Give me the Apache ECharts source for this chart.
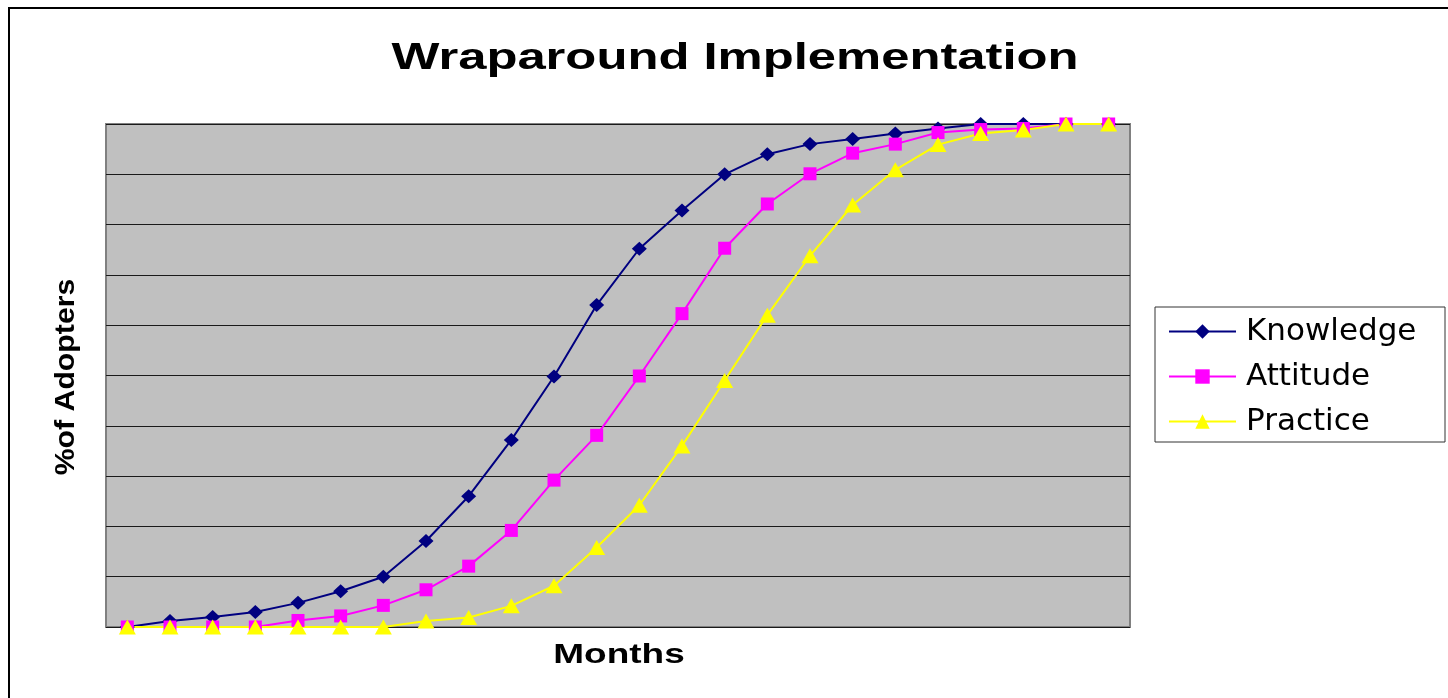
<!DOCTYPE html>
<html>
<head>
<meta charset="utf-8">
<script src="https://cdn.jsdelivr.net/npm/echarts@6/dist/echarts.min.js"></script>
<style>
  html, body { margin: 0; padding: 0; background: #fff; overflow: hidden; }
  #frame { position: absolute; left: 8px; top: 7px; width: 1480px; height: 740px; border: 2px solid #000; box-sizing: border-box; }
  #chart { position: absolute; left: 0; top: 0; width: 1448px; height: 698px; }
</style>
</head>
<body>
<div id="frame"></div>
<div id="chart"></div>
<script>
// ---- data ----
const months = ['1','2','3','4','5','6','7','8','9','10','11','12','13','14','15','16','17','18','19','20','21','22','23','24'];
const knowledge = [0, 1.2, 2, 3, 4.8, 7.1, 10, 17.1, 26, 37.2, 49.8, 64, 75.2, 82.8, 90, 94, 96, 97, 98.1, 99.1, 100, 100, 100, 100];
const attitude  = [0, 0, 0, 0, 1.3, 2.2, 4.3, 7.4, 12.1, 19.2, 29.2, 38.1, 49.9, 62.3, 75.3, 84.1, 90.1, 94.2, 96, 98.3, 98.9, 99.1, 100, 100];
const practice  = [0, 0, 0, 0, 0, 0, 0, 1.2, 1.9, 4.2, 8.2, 15.8, 24.2, 36, 49, 62, 73.8, 83.9, 90.9, 95.9, 98.1, 98.8, 100, 100];
const titleText = 'Wraparound Implementation';
const xName = 'Months';
const yName = '%of Adopters';

const chart = echarts.init(document.getElementById('chart'));
const font = '"Liberation Sans", Arial, sans-serif';

chart.setOption({
  animation: false,
  grid: {
    left: 106, top: 124, right: 318, bottom: 71,
    show: true, backgroundColor: '#c0c0c0', borderColor: '#808080', borderWidth: 2
  },
  xAxis: {
    type: 'category', data: months, boundaryGap: true,
    axisLine: { show: false }, axisTick: { show: false }, axisLabel: { show: false },
    splitLine: { show: false }
  },
  yAxis: {
    type: 'value', min: 0, max: 100, interval: 10,
    axisLine: { show: false }, axisTick: { show: false }, axisLabel: { show: false },
    splitLine: { show: true, lineStyle: { color: '#1a1a1a', width: 1 } }
  },
  legend: {
    orient: 'vertical', left: 1155, top: 307,
    itemWidth: 67, itemHeight: 18, itemGap: 12,
    padding: [8, 12, 4, 13],
    backgroundColor: '#fff', borderColor: '#333', borderWidth: 1,
    textStyle: { fontFamily: '"DejaVu Sans", sans-serif', fontSize: 31, lineHeight: 33, color: '#000', width: 187, padding: [0, 0, 0, 5] },
    data: ['Knowledge', 'Attitude', 'Practice']
  },
  graphic: [
    { type: 'text', x: 735, y: 59, scaleX: 1.41,
      style: { text: titleText, font: 'bold 36px ' + font, fill: '#000', textAlign: 'center', textVerticalAlign: 'middle' } },
    { type: 'text', x: 619, y: 655, scaleX: 1.32,
      style: { text: xName, font: 'bold 28px ' + font, fill: '#000', textAlign: 'center', textVerticalAlign: 'middle' } },
    { type: 'text', x: 66, y: 377, rotation: Math.PI / 2, scaleX: 1.08,
      style: { text: yName, font: 'bold 28px ' + font, fill: '#000', textAlign: 'center', textVerticalAlign: 'middle' } }
  ],
  series: [
    { name: 'Knowledge', type: 'line', data: knowledge, clip: false,
      symbol: 'diamond', symbolSize: [15, 14],
      lineStyle: { color: '#000080', width: 2 }, itemStyle: { color: '#000080' } },
    { name: 'Attitude', type: 'line', data: attitude, clip: false,
      symbol: 'rect', symbolSize: 13,
      lineStyle: { color: '#ff00ff', width: 2 }, itemStyle: { color: '#ff00ff' } },
    { name: 'Practice', type: 'line', data: practice, clip: false,
      symbol: 'triangle', symbolSize: [17, 15],
      lineStyle: { color: '#ffff00', width: 2 }, itemStyle: { color: '#ffff00' } }
  ]
});
</script>
</body>
</html>
